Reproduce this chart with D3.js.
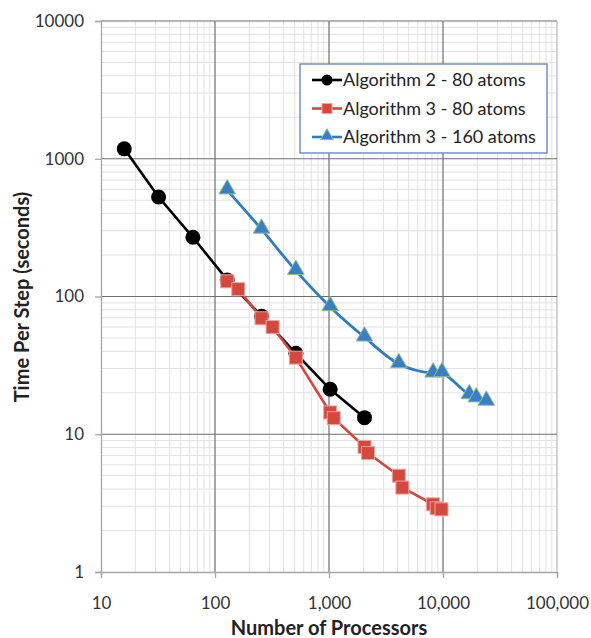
<!DOCTYPE html>
<html>
<head>
<meta charset="utf-8">
<script src="https://cdn.jsdelivr.net/npm/d3@7"></script>
<style>
  body { margin: 0; background: #fff; }
  text { font-family: Lato, sans-serif; }
</style>
</head>
<body>
<div id="chart"></div>
<script>
// data
var alg2_80x = [16, 32, 64, 128, 256, 512, 1024, 2048];
var alg2_80y = [1180, 527, 269, 132, 72, 38.7, 21.2, 13.2];

var alg3_80x = [128, 160, 256, 320, 512, 1024, 1100, 2048, 2200, 4096, 4400, 8192, 8800, 9700];
var alg3_80y = [129, 113, 69.5, 60, 36, 14.4, 13.1, 8.1, 7.3, 5.0, 4.1, 3.1, 2.9, 2.85];

var alg3_160x = [128, 256, 512, 1024, 2048, 4096, 8192, 9800, 17000, 19600, 24000];
var alg3_160y = [592, 307, 154, 84, 50.6, 32.4, 27.7, 27.9, 19.3, 18.3, 17.3];

var seriesNames = ['Algorithm 2 - 80 atoms', 'Algorithm 3 - 80 atoms', 'Algorithm 3 - 160 atoms'];
var xTicks = [10, 100, 1000, 10000, 100000];
var yTicks = [1, 10, 100, 1000, 10000];

var margin = { top: 21, right: 34, bottom: 66, left: 101 },
    width = 591 - margin.left - margin.right,
    height = 638 - margin.top - margin.bottom;

var svg = d3.select('#chart')
  .append('svg')
    .attr('width', 591)
    .attr('height', 638)
  .append('g')
    .attr('transform', 'translate(' + margin.left + ',' + margin.top + ')');

var x = d3.scaleLog().domain([10, 100000]).range([0, width]);
var y = d3.scaleLog().domain([1, 10000]).range([height, 0]);

// minor grid
var minorX = [], minorY = [];
for (var d = 10; d < 100000; d *= 10) for (var k = 2; k < 10; k++) minorX.push(d * k);
for (var d = 1; d < 10000; d *= 10) for (var k = 2; k < 10; k++) minorY.push(d * k);

svg.append('g').selectAll('line')
  .data(minorX).enter().append('line')
    .attr('x1', d => x(d)).attr('x2', d => x(d))
    .attr('y1', 0).attr('y2', height)
    .attr('stroke', '#e2e2e2').attr('stroke-width', 1);
svg.append('g').selectAll('line')
  .data(minorY).enter().append('line')
    .attr('y1', d => y(d)).attr('y2', d => y(d))
    .attr('x1', 0).attr('x2', width)
    .attr('stroke', '#e2e2e2').attr('stroke-width', 1);

// major grid
svg.append('g').selectAll('line')
  .data(xTicks.slice(1)).enter().append('line')
    .attr('x1', d => x(d)).attr('x2', d => x(d))
    .attr('y1', 0).attr('y2', height)
    .attr('stroke', d => d === 100000 ? '#b8b8b8' : '#6e6e6e').attr('stroke-width', 1.2);
svg.append('g').selectAll('line')
  .data(yTicks.slice(1)).enter().append('line')
    .attr('y1', d => y(d)).attr('y2', d => y(d))
    .attr('x1', 0).attr('x2', width)
    .attr('stroke', '#6e6e6e').attr('stroke-width', 1.2);

// axes
var xAxis = svg.append('g')
  .attr('transform', 'translate(0,' + height + ')')
  .call(d3.axisBottom(x).tickValues(xTicks).tickFormat(d3.format(',')).tickSize(6).tickPadding(19));
var yAxis = svg.append('g')
  .call(d3.axisLeft(y).tickValues(yTicks).tickFormat(d3.format('d')).tickSize(6).tickPadding(11));
[xAxis, yAxis].forEach(function(a) {
  a.select('.domain').attr('stroke', '#a6a6a6').attr('stroke-width', 1.3);
  a.selectAll('.tick line').attr('stroke', '#a6a6a6').attr('stroke-width', 1.3);
  a.selectAll('.tick text').attr('fill', '#333').style('font-size', '17px')
    .style('font-family', 'Lato, sans-serif');
});

var line = d3.line().x(d => x(d[0])).y(d => y(d[1]));
var smooth = d3.line().curve(d3.curveCatmullRom).x(d => x(d[0])).y(d => y(d[1]));

var black = d3.zip(alg2_80x, alg2_80y);
var red = d3.zip(alg3_80x, alg3_80y);
var blue = d3.zip(alg3_160x, alg3_160y);

var tri = d3.symbol().type(d3.symbolTriangle).size(120);

// blue series
svg.append('path').datum(blue)
  .attr('d', smooth).attr('fill', 'none')
  .attr('stroke', '#2e7cc4').attr('stroke-width', 2.8);
svg.append('g').selectAll('path')
  .data(blue).enter().append('path')
    .attr('d', tri)
    .attr('transform', d => 'translate(' + x(d[0]) + ',' + (y(d[1]) - 1) + ')')
    .attr('fill', '#3a7fc6').attr('stroke', '#8fbf8a').attr('stroke-width', 1);

// black series
svg.append('path').datum(black)
  .attr('d', line).attr('fill', 'none')
  .attr('stroke', '#000').attr('stroke-width', 2.6);
svg.append('g').selectAll('circle')
  .data(black).enter().append('circle')
    .attr('cx', d => x(d[0])).attr('cy', d => y(d[1]))
    .attr('r', 7.5).attr('fill', '#000');

// red series
svg.append('path').datum(red)
  .attr('d', line).attr('fill', 'none')
  .attr('stroke', '#d2473c').attr('stroke-width', 2.6);
svg.append('g').selectAll('rect')
  .data(red).enter().append('rect')
    .attr('x', d => x(d[0]) - 6.5).attr('y', d => y(d[1]) - 6.5)
    .attr('width', 13).attr('height', 13)
    .attr('fill', '#d4483d').attr('stroke', '#eaa59e').attr('stroke-width', 1);

// legend
var leg = svg.append('g').attr('transform', 'translate(' + (300 - margin.left) + ',' + (64 - margin.top) + ')');
leg.append('rect').attr('width', 247).attr('height', 89)
  .attr('fill', '#fff').attr('stroke', '#5a82c4').attr('stroke-width', 1.3);
var legColors = ['#000', '#d2473c', '#2e7cc4'];
seriesNames.forEach(function(name, i) {
  var g = leg.append('g').attr('transform', 'translate(0,' + (16 + i * 28.5) + ')');
  g.append('line').attr('x1', 12).attr('x2', 42).attr('stroke', legColors[i]).attr('stroke-width', 2.6);
  if (i === 0) g.append('circle').attr('cx', 27).attr('r', 5.5).attr('fill', '#000');
  if (i === 1) g.append('rect').attr('x', 22).attr('y', -5).attr('width', 10).attr('height', 10)
    .attr('fill', '#d4483d').attr('stroke', '#eaa59e');
  if (i === 2) g.append('path').attr('d', d3.symbol().type(d3.symbolTriangle).size(70))
    .attr('transform', 'translate(27,-1)').attr('fill', '#3a7fc6').attr('stroke', '#8fbf8a');
  g.append('text').attr('x', 43).attr('y', 6)
    .attr('font-size', '18px').attr('fill', '#222').text(name);
});

// axis titles
svg.append('text')
  .attr('transform', 'translate(' + (29 - margin.left) + ',' + (297 - margin.top) + ') rotate(-90)')
  .attr('text-anchor', 'middle')
  .attr('font-size', '20px').attr('font-weight', 'bold').attr('fill', '#222')
  .text('Time Per Step (seconds)');
svg.append('text')
  .attr('x', 329 - margin.left).attr('y', 635 - margin.top)
  .attr('text-anchor', 'middle')
  .attr('font-size', '20px').attr('font-weight', 'bold').attr('fill', '#222')
  .text('Number of Processors');
</script>
</body>
</html>
